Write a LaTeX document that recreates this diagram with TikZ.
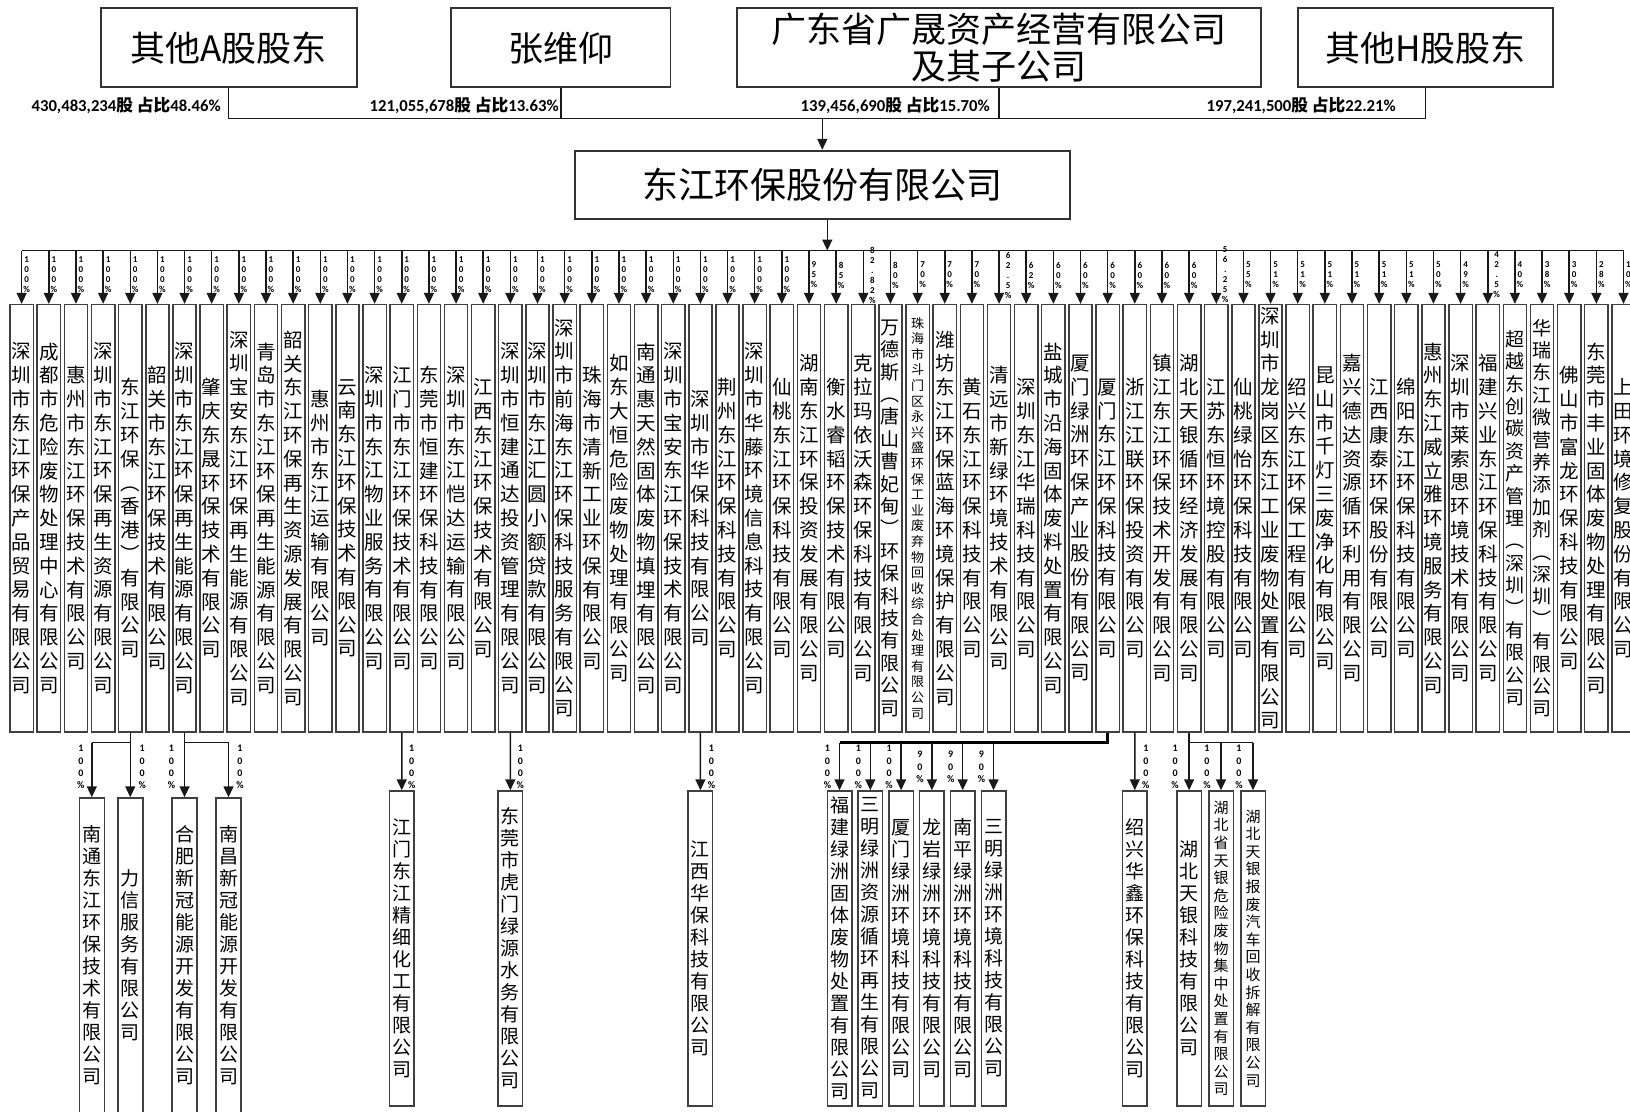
\documentclass[tikz,border=0pt]{standalone}
\usepackage{fontspec}
\setmainfont{Carlito}
\newfontfamily\cjk{Noto Sans CJK SC}
\newfontfamily\carl{Carlito}
\usetikzlibrary{arrows.meta,calc}
\makeatletter
\def\vt#1{\vt@a#1\@nil}
\def\vt@a#1#2\@nil{#1\if\relax\detokenize{#2}\relax\expandafter\@gobble\else\expandafter\@firstofone\fi{\\\vt@a#2\@nil}}
\makeatother
\tikzset{
 mbox/.style={draw=black!75,line width=1.5pt,minimum width=23.3pt,minimum height=427.2pt,inner sep=0pt,align=center},
 bbox/.style={draw=black!75,line width=1.5pt,minimum width=24.5pt,minimum height=315pt,inner sep=0pt,align=center,font=\cjk\fontsize{19}{22}\selectfont},
 tbox/.style={draw=black!80,line width=1.8pt,inner sep=0pt,align=center,font=\cjk\fontsize{35}{37}\selectfont},
 ln/.style={line width=1.5pt,draw=black!90},
 arr/.style={ln,-{Triangle[width=10pt,length=11pt]}},
 pct/.style={font=\carl\bfseries\fontsize{9}{10}\selectfont,align=center,inner sep=0pt},
 pctb/.style={font=\carl\bfseries\fontsize{10}{12.3}\selectfont,align=center,inner sep=0pt},
 tl/.style={font=\fontsize{16.7}{18}\selectfont,inner sep=0pt,anchor=east}
}
\newcommand\tlab[2]{{\carl\bfseries #1}{\cjk\bfseries 股 占比}{\carl\bfseries #2}}
% index, name, pct, fontsize, skip, label offset
\newcommand\mbx[6]{%
  \node[mbox,font=\cjk\fontsize{#4}{#5}\selectfont] (m#1) at ({21.65+27.15*#1},518.2) {\vt{#2}};
  \coordinate (bt#1) at (m#1.north |- yb);
  \draw[arr] (bt#1) -- (m#1.north);
  \node[pct] (p#1) at ({21.65+27.15*#1+#6},275) {\vt{#3}};
}
\newcommand\mb[3]{\mbx{#1}{#2}{#3}{19.5}{23.8}{5}}
\newcommand\mbl[3]{\mbx{#1}{#2}{#3}{19.5}{23.8}{9}}
\newcommand\mbt[3]{\mbx{#1}{#2}{#3}{19}{22.4}{5}}
\newcommand\bbx[5]{\node[bbox,#5] (#1) at (#2,#3) {\vt{#4}};}
\begin{document}
\begin{tikzpicture}[x=1pt,y=-1pt]
\useasboundingbox (0,0) rectangle (1630,1111);
\fill[white] (0,0) rectangle (1630,1111);
\clip (0,0) rectangle (1630,1111);
\coordinate (busy) at (0,118.5);
\coordinate (yb) at (0,250.5);
\coordinate (yb2) at (0,742.5);
% top shareholders
\node[tbox,minimum width=255.8pt,minimum height=79pt] (tA) at (228.7,47.8) {其他A股股东};
\node[tbox,minimum width=219.5pt,minimum height=79pt] (tZ) at (560.75,47.8) {张维仰};
\node[tbox,minimum width=524pt,minimum height=79pt] (tG) at (999,47.8) {广东省广晟资产经营有限公司\\及其子公司};
\node[tbox,minimum width=255pt,minimum height=79pt] (tH) at (1425.5,47.8) {其他H股股东};
\node[tbox,minimum width=494.6pt,minimum height=68.6pt,font=\cjk\fontsize{36}{40}\selectfont] (main) at (822.3,185) {东江环保股份有限公司};
\draw[ln] (tA.south) |- (tH.south |- busy) -- (tH.south);
\draw[ln] (tZ.south) -- (tZ.south |- busy);
\draw[ln] (tG.south) -- (tG.south |- busy);
\draw[arr] (main.north |- busy) -- (main.north);
\node[tl] (lA) at (221,105.5) {\tlab{430,483,234}{48.46\%}};
\node[tl] (lZ) at (559,105.5) {\tlab{121,055,678}{13.63\%}};
\node[tl] (lG) at (990,105.5) {\tlab{139,456,690}{15.70\%}};
\node[tl] (lH) at (1396,105.5) {\tlab{197,241,500}{22.21\%}};
% second level
\mb{0}{深圳市东江环保产品贸易有限公司}{100\%}
\mb{1}{成都市危险废物处理中心有限公司}{100\%}
\mb{2}{惠州市东江环保技术有限公司}{100\%}
\mb{3}{深圳市东江环保再生资源有限公司}{100\%}
\mb{4}{东江环保︵香港︶有限公司}{100\%}
\mb{5}{韶关市东江环保技术有限公司}{100\%}
\mb{6}{深圳市东江环保再生能源有限公司}{100\%}
\mb{7}{肇庆东晟环保技术有限公司}{100\%}
\mb{8}{深圳宝安东江环保再生能源有限公司}{100\%}
\mb{9}{青岛市东江环保再生能源有限公司}{100\%}
\mb{10}{韶关东江环保再生资源发展有限公司}{100\%}
\mb{11}{惠州市东江运输有限公司}{100\%}
\mb{12}{云南东江环保技术有限公司}{100\%}
\mb{13}{深圳市东江物业服务有限公司}{100\%}
\mb{14}{江门市东江环保技术有限公司}{100\%}
\mb{15}{东莞市恒建环保科技有限公司}{100\%}
\mb{16}{深圳市东江恺达运输有限公司}{100\%}
\mb{17}{江西东江环保技术有限公司}{100\%}
\mb{18}{深圳市恒建通达投资管理有限公司}{100\%}
\mb{19}{深圳市东江汇圆小额贷款有限公司}{100\%}
\mb{20}{深圳市前海东江环保科技服务有限公司}{100\%}
\mb{21}{珠海市清新工业环保有限公司}{100\%}
\mb{22}{如东大恒危险废物处理有限公司}{100\%}
\mb{23}{南通惠天然固体废物填埋有限公司}{100\%}
\mb{24}{深圳市宝安东江环保技术有限公司}{100\%}
\mb{25}{深圳市华保科技有限公司}{100\%}
\mb{26}{荆州东江环保科技有限公司}{100\%}
\mb{27}{深圳市华藤环境信息科技有限公司}{100\%}
\mb{28}{仙桃东江环保科技有限公司}{100\%}
\mb{29}{湖南东江环保投资发展有限公司}{95\%}
\mb{30}{衡水睿韬环保技术有限公司}{85\%}
\mbl{31}{克拉玛依沃森环保科技有限公司}{82.82\%}
\mbt{32}{万德斯︵唐山曹妃甸︶环保科技有限公司}{80\%}
\mbx{33}{珠海市斗门区永兴盛环保工业废弃物回收综合处理有限公司}{70\%}{13}{15.6}{5}
\mb{34}{潍坊东江环保蓝海环境保护有限公司}{70\%}
\mb{35}{黄石东江环保科技有限公司}{70\%}
\mbl{36}{清远市新绿环境技术有限公司}{62.5\%}
\mb{37}{深圳东江华瑞科技有限公司}{62\%}
\mb{38}{盐城市沿海固体废料处置有限公司}{60\%}
\mb{39}{厦门绿洲环保产业股份有限公司}{60\%}
\mb{40}{厦门东江环保科技有限公司}{60\%}
\mb{41}{浙江江联环保投资有限公司}{60\%}
\mb{42}{镇江东江环保技术开发有限公司}{60\%}
\mb{43}{湖北天银循环经济发展有限公司}{60\%}
\mbl{44}{江苏东恒环境控股有限公司}{56.25\%}
\mb{45}{仙桃绿怡环保科技有限公司}{55\%}
\mb{46}{深圳市龙岗区东江工业废物处置有限公司}{51\%}
\mb{47}{绍兴东江环保工程有限公司}{51\%}
\mb{48}{昆山市千灯三废净化有限公司}{51\%}
\mb{49}{嘉兴德达资源循环利用有限公司}{51\%}
\mb{50}{江西康泰环保股份有限公司}{51\%}
\mb{51}{绵阳东江环保科技有限公司}{51\%}
\mb{52}{惠州东江威立雅环境服务有限公司}{50\%}
\mb{53}{深圳市莱索思环境技术有限公司}{49\%}
\mbl{54}{福建兴业东江环保科技有限公司}{42.5\%}
\mbt{55}{超越东创碳资产管理︵深圳︶有限公司}{40\%}
\mbt{56}{华瑞东江微营养添加剂︵深圳︶有限公司}{38\%}
\mb{57}{佛山市富龙环保科技有限公司}{30\%}
\mb{58}{东莞市丰业固体废物处理有限公司}{28\%}
\mb{59}{上田环境修复股份有限公司}{10\%}
\draw[ln] (bt0) -- (bt59);
\coordinate (mo) at ($(main.south)+(5,0)$);
\draw[arr] (mo) -- (mo |- yb);
% third level
\bbx{a1}{91.8}{955.5}{南通东江环保技术有限公司}{minimum width=25pt}
\bbx{a2}{130.25}{955.5}{力信服务有限公司}{minimum width=25pt}
\bbx{b1}{184.55}{955.5}{合肥新冠能源开发有限公司}{minimum width=25pt}
\bbx{b2}{228.5}{955.5}{南昌新冠能源开发有限公司}{minimum width=25pt}
\bbx{c1}{401.75}{948.5}{江门东江精细化工有限公司}{}
\bbx{d1}{510.35}{948.5}{东莞市虎门绿源水务有限公司}{}
\bbx{e1}{700.4}{948.5}{江西华保科技有限公司}{}
\bbx{f1}{839.5}{948.5}{福建绿洲固体废物处置有限公司}{}
\bbx{f2}{870.3}{948.5}{三明绿洲资源循环再生有限公司}{}
\bbx{f3}{901.1}{948.5}{厦门绿洲环境科技有限公司}{}
\bbx{f4}{931.9}{948.5}{龙岩绿洲环境科技有限公司}{}
\bbx{f5}{962.7}{948.5}{南平绿洲环境科技有限公司}{}
\bbx{f6}{993.5}{948.5}{三明绿洲环境科技有限公司}{}
\bbx{g1}{1134.8}{948.5}{绍兴华鑫环保科技有限公司}{}
\bbx{h1}{1189.1}{948.5}{湖北天银科技有限公司}{}
\bbx{h2}{1221}{948.5}{湖北省天银危险废物集中处置有限公司}{font=\cjk\fontsize{15}{17.6}\selectfont}
\bbx{h3}{1253}{948.5}{湖北天银报废汽车回收拆解有限公司}{font=\cjk\fontsize{15}{17.6}\selectfont}
% connectors third level
\draw[ln] (m4.south) |- (a1.north |- yb2);
\draw[arr] (a1.north |- yb2) -- (a1.north);
\draw[arr] (a2.north |- yb2) -- (a2.north);
\draw[ln] (m6.south) |- (b2.north |- yb2);
\draw[arr] (b1.north |- yb2) -- (b1.north);
\draw[arr] (b2.north |- yb2) -- (b2.north);
\draw[arr] (m14.south) -- (c1.north);
\draw[arr] (m18.south) -- (d1.north);
\draw[arr] (m25.south) -- (e1.north);
\draw[line width=2.6pt] (m40.south) |- (f1.north |- yb2);
\foreach \f in {f1,f2,f3,f4,f5,f6}{\draw[arr] (\f.north |- yb2) -- (\f.north);}
\draw[arr] (m41.south) -- (g1.north);
\draw[ln] (m43.south) |- (h3.north |- yb2);
\foreach \h in {h1,h2,h3}{\draw[arr] (\h.north |- yb2) -- (\h.north);}
% third level percentages
\node[pctb] (qa1) at (80.8,767) {\vt{100\%}};
\node[pctb] (qa2) at (142.25,767) {\vt{100\%}};
\node[pctb] (qb1) at (171.5,767) {\vt{100\%}};
\node[pctb] (qb2) at (240,767) {\vt{100\%}};
\node[pctb] (qc1) at (411.75,767) {\vt{100\%}};
\node[pctb] (qd1) at (520.35,767) {\vt{100\%}};
\node[pctb] (qe1) at (711.4,767) {\vt{100\%}};
\node[pctb] (qf1) at (827.5,767) {\vt{100\%}};
\node[pctb] (qf2) at (858.3,767) {\vt{100\%}};
\node[pctb] (qf3) at (889.1,767) {\vt{100\%}};
\node[pctb] (qf4) at (919.9,767) {\vt{90\%}};
\node[pctb] (qf5) at (950.7,767) {\vt{90\%}};
\node[pctb] (qf6) at (981.5,767) {\vt{90\%}};
\node[pctb] (qg1) at (1145.8,767) {\vt{100\%}};
\node[pctb] (qh1) at (1175.1,767) {\vt{100\%}};
\node[pctb] (qh2) at (1207,767) {\vt{100\%}};
\node[pctb] (qh3) at (1239,767) {\vt{100\%}};
\end{tikzpicture}
\end{document}
